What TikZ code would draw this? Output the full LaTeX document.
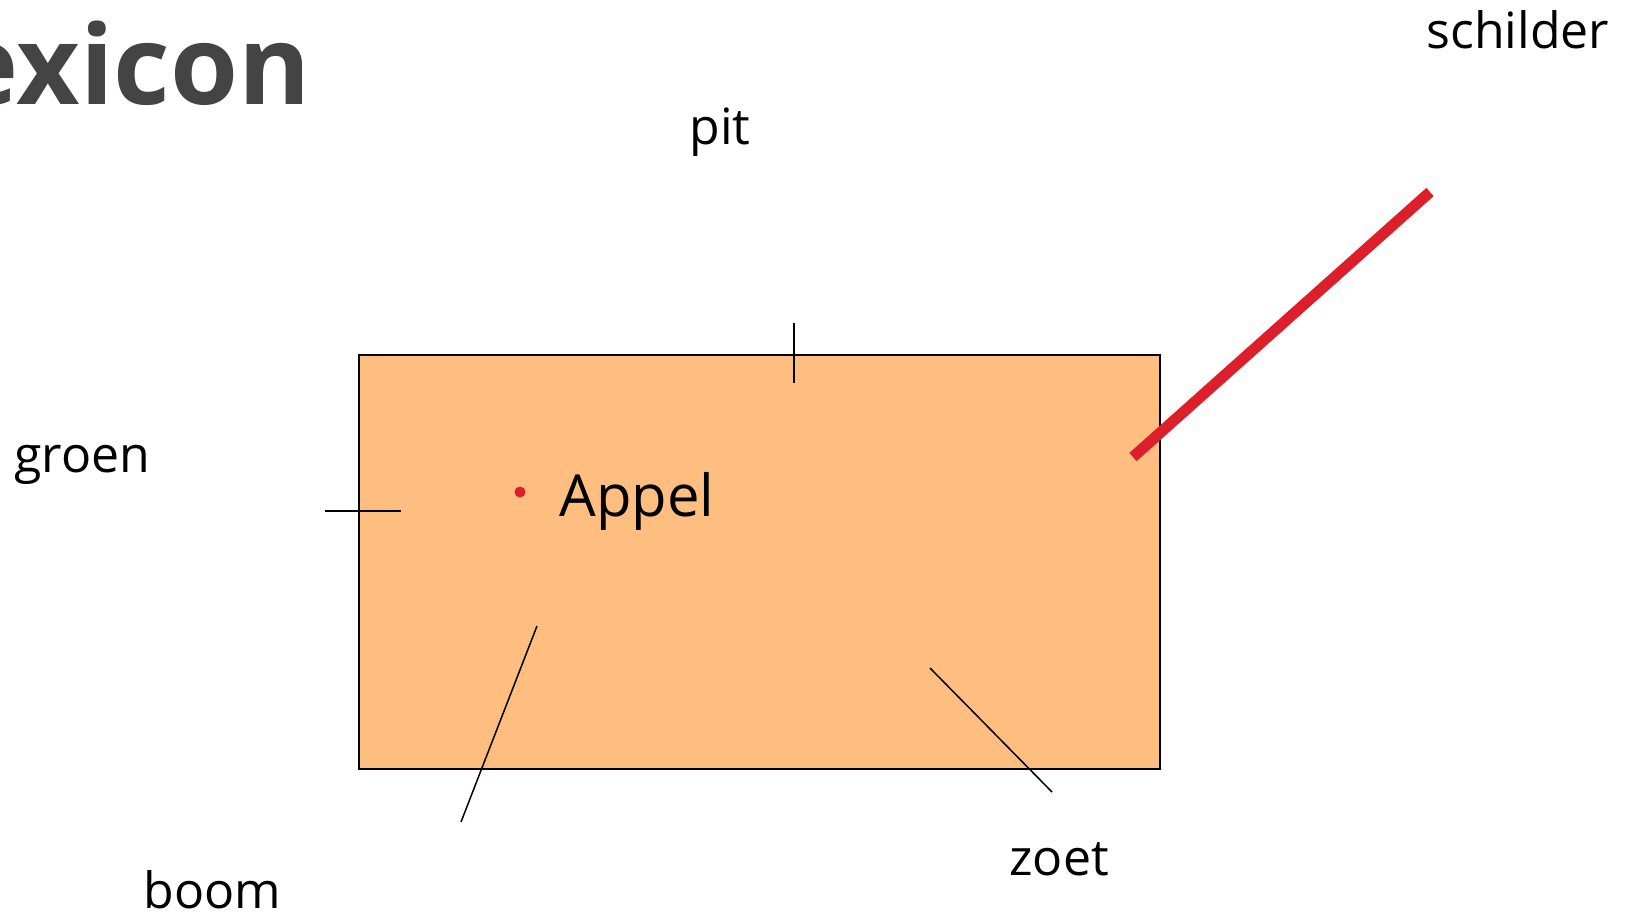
\documentclass[tikz,border=0pt]{standalone}
\usepackage{fontspec}
\setmainfont{Open Sans}
\usepackage{tikz}
\usetikzlibrary{positioning,calc}
\definecolor{appelfill}{RGB}{253,190,128}
\definecolor{lexred}{RGB}{220,31,42}
\definecolor{titlegray}{RGB}{68,68,68}

\begin{document}
\begin{tikzpicture}[x=0.5pt, y=-0.5pt]
    \tikzset{
        word/.style={anchor=base west, inner sep=0pt, font=\fontsize{25}{30}\selectfont},
        tick/.style={line width=0.75pt, black}
    }
    \useasboundingbox (0,0) rectangle (1629,918);

    % Title (cut at the left edge)
    \node[anchor=base east, inner sep=0pt, text=titlegray,
          font=\fontsize{55}{66}\selectfont\bfseries] (title) at (311,104) {exicon};

    % Concept box
    \coordinate (boxnw) at (359,355);
    \coordinate (boxse) at (1160,769);
    \draw[line width=1pt, fill=appelfill] (boxnw) rectangle (boxse);

    % Centre of the concept
    \fill[lexred] (520,492) circle (5.5);
    \node[anchor=base west, inner sep=0pt, font=\fontsize{29}{35}\selectfont] (appel) at (559,516) {Appel};

    % Related words
    \node[word] (pit) at (689,144) {pit};
    \node[word] (groen) at (14,472) {groen};
    \node[word] (zoet) at (1009,875) {zoet};
    \node[word] (boom) at (143,908) {boom};
    \node[word] (schilder) at (1426,48) {schilder};

    % Links (short strokes)
    \coordinate (pitA) at (794,323);   \coordinate (pitB) at (794,383);
    \coordinate (groenA) at (325,511); \coordinate (groenB) at (401,511);
    \coordinate (boomA) at (537,626);  \coordinate (boomB) at (461,822);
    \coordinate (zoetA) at (930,668);  \coordinate (zoetB) at (1052,792);
    \draw[tick] (pitA) -- (pitB);
    \draw[tick] (groenA) -- (groenB);
    \draw[tick] (boomA) -- (boomB);
    \draw[tick] (zoetA) -- (zoetB);

    % Strong link
    \coordinate (schA) at (1133,457);
    \coordinate (schB) at (1430,192);
    \draw[line width=5.5pt, lexred] (schA) -- (schB);

\end{tikzpicture}
\end{document}
